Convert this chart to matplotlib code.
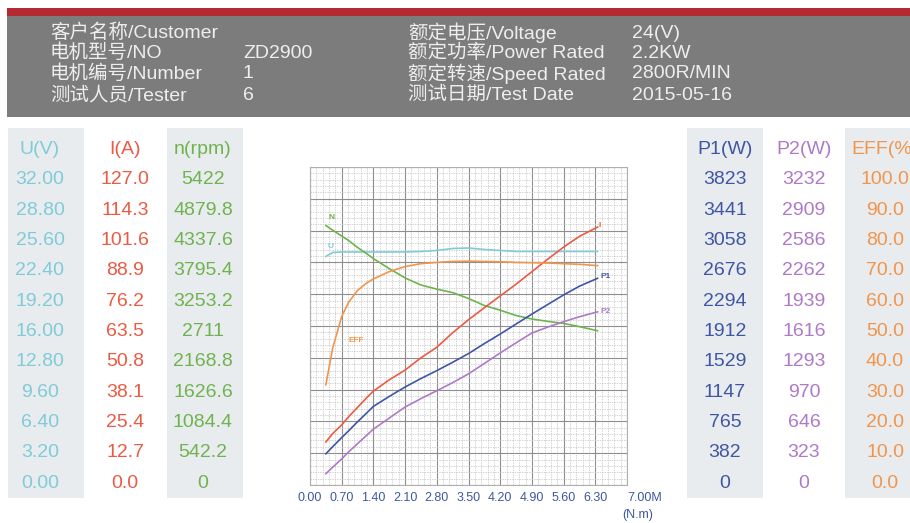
import numpy as np
import matplotlib
matplotlib.use('Agg')
import matplotlib.pyplot as plt
from matplotlib.patches import Rectangle
from matplotlib.ticker import MultipleLocator

FONT = ['Liberation Sans', 'Noto Sans CJK SC', 'DejaVu Sans']
plt.rcParams['font.family'] = FONT

# header info
info_left = [("客户名称/Customer", ""), ("电机型号/NO", "ZD2900"),
             ("电机编号/Number", "1"), ("测试人员/Tester", "6")]
info_right = [("额定电压/Voltage", "24(V)"), ("额定功率/Power Rated", "2.2KW"),
              ("额定转速/Speed Rated", "2800R/MIN"), ("测试日期/Test Date", "2015-05-16")]

# scale columns
u_labels = ["32.00", "28.80", "25.60", "22.40", "19.20", "16.00", "12.80", "9.60", "6.40", "3.20", "0.00"]
i_labels = ["127.0", "114.3", "101.6", "88.9", "76.2", "63.5", "50.8", "38.1", "25.4", "12.7", "0.0"]
n_labels = ["5422", "4879.8", "4337.6", "3795.4", "3253.2", "2711", "2168.8", "1626.6", "1084.4", "542.2", "0"]
p1_labels = ["3823", "3441", "3058", "2676", "2294", "1912", "1529", "1147", "765", "382", "0"]
p2_labels = ["3232", "2909", "2586", "2262", "1939", "1616", "1293", "970", "646", "323", "0"]
eff_labels = ["100.0", "90.0", "80.0", "70.0", "60.0", "50.0", "40.0", "30.0", "20.0", "10.0", "0.0"]

# full scale of each curve
u_top, i_top, n_top = 32.0, 127.0, 5422.0
p1_top, p2_top, eff_top = 3823.0, 3232.0, 100.0

# torque (N.m) and measured curves
torque = [0.35, 0.5, 0.7, 0.85, 1.05, 1.25, 1.4, 1.75, 2.1, 2.45, 2.8,
          3.15, 3.5, 3.85, 4.2, 4.55, 4.9, 5.25, 5.6, 5.95, 6.35]
u_vals = [23.0, 23.4, 23.45, 23.45, 23.45, 23.45, 23.45, 23.45, 23.45, 23.5, 23.6,
          23.8, 23.85, 23.7, 23.6, 23.5, 23.5, 23.5, 23.5, 23.5, 23.5]
i_vals = [17.2, 20.5, 24.0, 27.2, 31.0, 34.8, 37.5, 42.0, 45.9, 50.8, 55.0,
          60.8, 66.0, 70.8, 75.5, 80.2, 85.2, 90.2, 95.0, 99.3, 103.0]
n_vals = [4425, 4345, 4245, 4170, 4050, 3945, 3860, 3690, 3530, 3410, 3340,
          3280, 3180, 3060, 2980, 2890, 2830, 2790, 2755, 2700, 2630]
p1_vals = [375, 460, 570, 650, 760, 865, 945, 1065, 1178, 1280, 1375,
           1475, 1580, 1700, 1815, 1935, 2055, 2170, 2285, 2390, 2485]
p2_vals = [115, 180, 265, 335, 420, 505, 568, 680, 793, 878, 958,
           1040, 1130, 1235, 1342, 1445, 1545, 1605, 1660, 1710, 1760]
eff_vals = [31.5, 43.0, 53.0, 57.4, 61.2, 63.5, 64.8, 67.1, 68.7, 69.6, 70.0,
            70.3, 70.4, 70.3, 70.2, 70.0, 69.9, 69.8, 69.6, 69.4, 69.0]

x_ticks = [0.0, 0.7, 1.4, 2.1, 2.8, 3.5, 4.2, 4.9, 5.6, 6.3, 7.0]
x_ticklabels = ["0.00", "0.70", "1.40", "2.10", "2.80", "3.50", "4.20", "4.90", "5.60", "6.30", "7.00M"]

c_u, c_i, c_n = '#7fcbd8', '#ea5b43', '#6fb34f'
c_p1, c_p2, c_eff = '#3f57a3', '#ae7ac8', '#f1954c'

fig = plt.figure(figsize=(9.1, 5.23), dpi=100)

# background layer in pixel coords
bg = fig.add_axes([0, 0, 1, 1])
bg.set_xlim(0, 910)
bg.set_ylim(523, 0)
bg.axis('off')

bg.add_patch(Rectangle((7, 8), 903, 8, color='#b32a30', lw=0))
bg.add_patch(Rectangle((7, 16), 903, 101, color='#7c7c7c', lw=0))

row_y = [33, 53, 74, 95]
for k, (lab, val) in enumerate(info_left):
    bg.text(50, row_y[k], lab, color='#eeeeee', fontsize=14, va='center')
    bg.text(243, row_y[k], val, color='#eeeeee', fontsize=14, va='center')
for k, (lab, val) in enumerate(info_right):
    bg.text(408, row_y[k], lab, color='#eeeeee', fontsize=14, va='center')
    bg.text(632, row_y[k], val, color='#eeeeee', fontsize=14, va='center')

# scale tables
for x0, w in [(8, 76), (167, 76), (687, 76), (845, 65)]:
    bg.add_patch(Rectangle((x0, 128), w, 370, color='#e9ecef', lw=0))

columns = [(40, "U(V)", u_labels, c_u), (125, "I(A)", i_labels, c_i),
           (203, "n(rpm)", n_labels, c_n), (725, "P1(W)", p1_labels, c_p1),
           (804, "P2(W)", p2_labels, c_p2), (885, "EFF(%)", eff_labels, c_eff)]
for cx, head, labels, col in columns:
    bg.text(cx, 149, head, color=col, fontsize=14, ha='center', va='center')
    for k, lab in enumerate(labels):
        bg.text(cx, 180 + k * 30.3, lab, color=col, fontsize=14, ha='center', va='center')

bg.text(638, 515, "(N.m)", color=c_p1, fontsize=9, ha='center', va='center')

# chart
ax = fig.add_axes([310 / 910, 1 - 485 / 523, 317 / 910, 318 / 523])
ax.set_xlim(0, 7)
ax.set_ylim(0, 1)
ax.set_xticks(x_ticks)
ax.set_xticklabels(x_ticklabels)
ax.xaxis.set_minor_locator(MultipleLocator(0.14))
ax.set_yticks(np.linspace(0, 1, 11))
ax.yaxis.set_minor_locator(MultipleLocator(0.02))
ax.set_yticklabels([])
ax.tick_params(which='both', length=0)
ax.tick_params(axis='x', colors=c_p1, labelsize=9, pad=5)
ax.get_xticklabels()[-1].set_horizontalalignment('left')
ax.grid(which='major', color='#8e8e8e', lw=0.8)
ax.grid(which='minor', color='#c2c2c2', lw=0.5, ls=(0, (2, 1.5)))
ax.set_axisbelow(True)
for s in ax.spines.values():
    s.set_color('#b0b0b0')

# (values, full scale, colour, tag, index of point the tag sits by, offset in points)
series = [(u_vals, u_top, c_u, "U", 0, (1.5, 7.5)), (n_vals, n_top, c_n, "N", 0, (2, 6)),
          (i_vals, i_top, c_i, "I", -1, (1, 1)), (eff_vals, eff_top, c_eff, "EFF", 2, (5, -17)),
          (p1_vals, p1_top, c_p1, "P1", -1, (2, 1)), (p2_vals, p2_top, c_p2, "P2", -1, (2, 0))]
for vals, top, col, name, idx, off in series:
    sx = ax.twinx()
    sx.set_ylim(0, top)
    sx.axis('off')
    sx.plot(torque, vals, color=col, lw=1.2, solid_joinstyle='round')
    sx.annotate(name, (torque[idx], vals[idx]), xytext=off, textcoords='offset points',
                color=col, fontsize=6, fontweight='bold', ha='left', va='center')

fig.savefig('out.png', dpi=100)
